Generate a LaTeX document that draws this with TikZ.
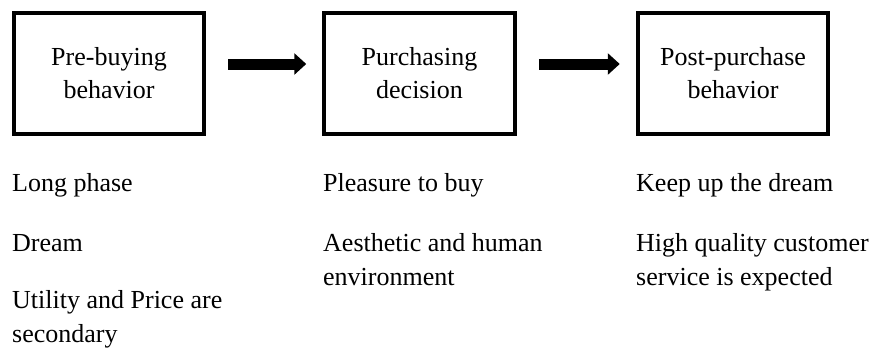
\documentclass[tikz,border=0pt]{standalone}
\usepackage{fontspec}
\setmainfont{Liberation Serif}
\usetikzlibrary{arrows.meta,positioning}

\begin{document}
\begin{tikzpicture}[x=1bp,y=-1bp,
    stagebox/.style={draw,line width=4bp,minimum width=190.5bp,minimum height=120.5bp,
      align=center,inner sep=0pt,font=\fontsize{26bp}{33bp}\selectfont},
    note/.style={anchor=base west,inner sep=0pt,align=left,
      font=\fontsize{26bp}{34bp}\selectfont},
    flow/.style={line width=11bp,-{Triangle[width=21bp,length=12bp]},
      shorten <=22bp,shorten >=16bp}]
  \useasboundingbox (0,0) rectangle (876,356);
  % the three stages
  \node[stagebox] (pre)  at (109,73.5)   {Pre-buying\\behavior};
  \node[stagebox] (buy)  at (419.5,73.5) {Purchasing\\decision};
  \node[stagebox] (post) at (733,73.5)   {Post-purchase\\behavior};
  \draw[flow] ([yshift=9.5bp]pre.east) -- ([yshift=9.5bp]buy.west);
  \draw[flow] ([yshift=9.5bp]buy.east) -- ([yshift=9.5bp]post.west);
  % notes below each stage (base = last line)
  \node[note] (long)    at (12,191)  {Long phase};
  \node[note] (dream)   at (12,251)  {Dream};
  \node[note] (utility) at (12,342)  {Utility and Price are\\secondary};
  \node[note] (pleas)   at (323,191) {Pleasure to buy};
  \node[note] (aesth)   at (323,285) {Aesthetic and human\\environment};
  \node[note] (keep)    at (636,191) {Keep up the dream};
  \node[note] (service) at (636,285) {High quality customer\\service is expected};
\end{tikzpicture}
\end{document}
